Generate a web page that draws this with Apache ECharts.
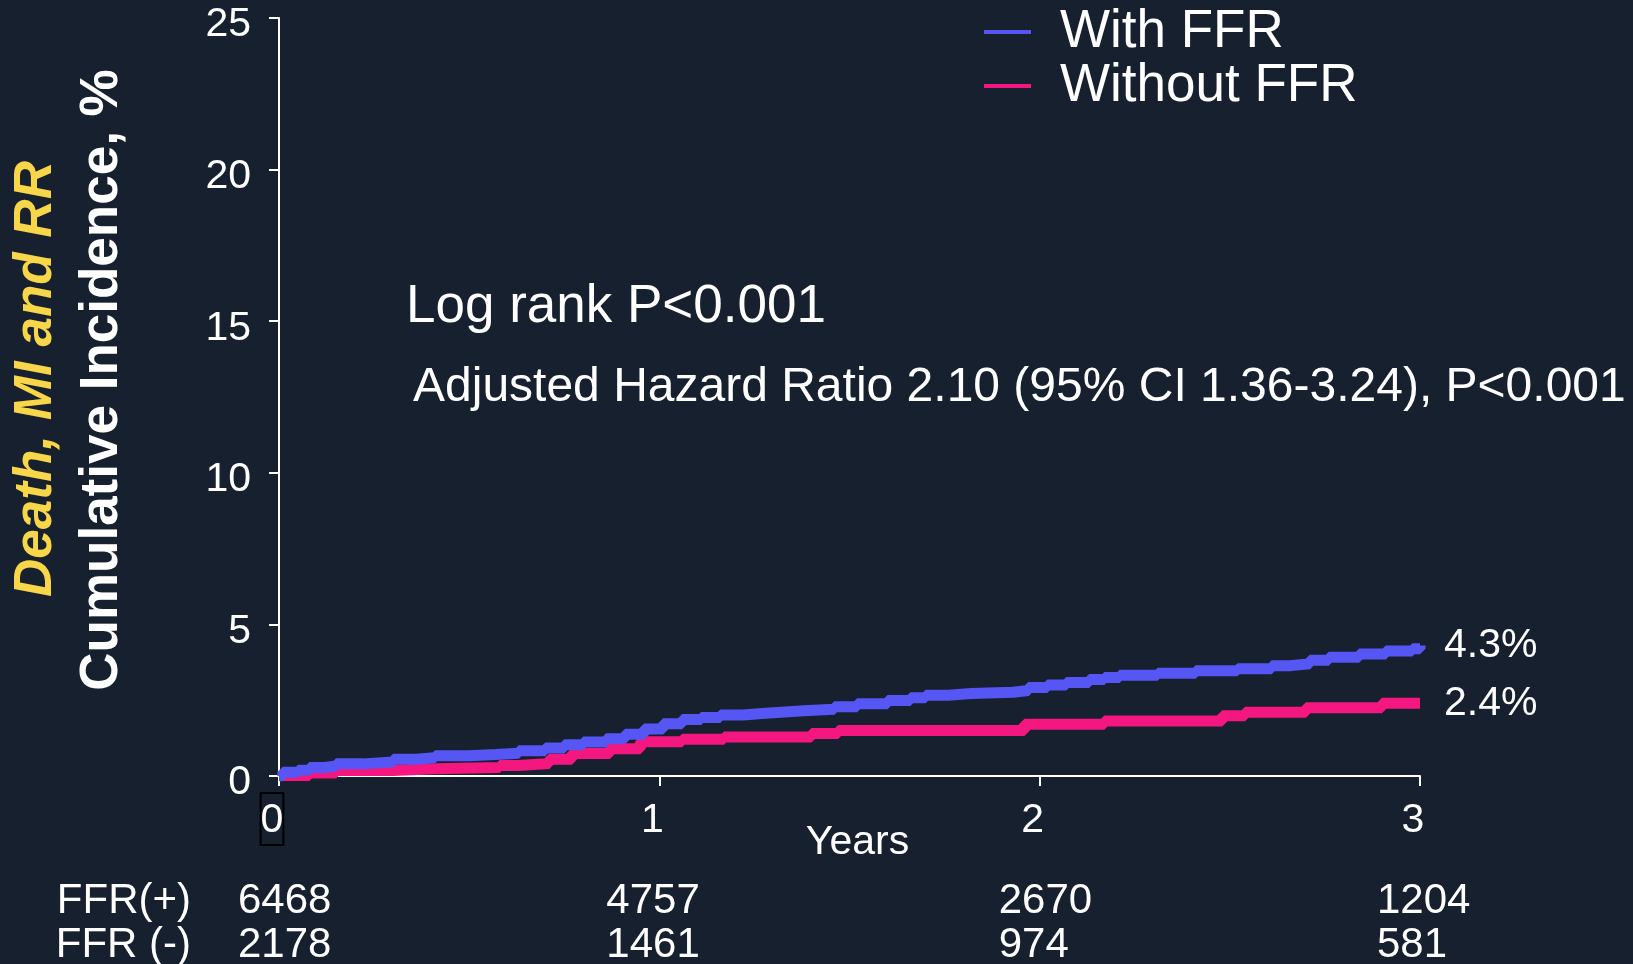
<!DOCTYPE html>
<html>
<head>
<meta charset="utf-8">
<script src="https://cdn.jsdelivr.net/npm/echarts@6/dist/echarts.min.js"></script>
<style>
  html, body { margin: 0; padding: 0; background: #16202F; }
  #chart { width: 1633px; height: 964px; }
</style>
</head>
<body>
<div id="chart"></div>
<script>
// Cumulative incidence of death, MI and repeat revascularisation (%), by years of follow-up
const seriesNames = ['With FFR', 'Without FFR'];

// Step points [year, cumulative incidence %]; each value holds until the next point
const withFFR = [
  [0, 0], [0.01, 0.12], [0.05, 0.19], [0.08, 0.28], [0.12, 0.33], [0.15, 0.40],
  [0.22, 0.46], [0.30, 0.55], [0.36, 0.60], [0.41, 0.67], [0.50, 0.71], [0.57, 0.75],
  [0.63, 0.83], [0.70, 0.92], [0.75, 1.03], [0.80, 1.12], [0.86, 1.23], [0.91, 1.38],
  [0.96, 1.55], [1.01, 1.72], [1.06, 1.86], [1.11, 1.93], [1.16, 2.01], [1.22, 2.06],
  [1.27, 2.11], [1.33, 2.15], [1.38, 2.20], [1.46, 2.28], [1.52, 2.38], [1.60, 2.49],
  [1.66, 2.58], [1.70, 2.66], [1.76, 2.72], [1.82, 2.76], [1.93, 2.82], [1.97, 2.92],
  [2.02, 3.00], [2.07, 3.08], [2.13, 3.18], [2.17, 3.25], [2.21, 3.32], [2.31, 3.39],
  [2.41, 3.47], [2.52, 3.54], [2.61, 3.64], [2.66, 3.70], [2.71, 3.82], [2.76, 3.92],
  [2.84, 4.02], [2.91, 4.12], [2.98, 4.20], [3.00, 4.3]
];
const withoutFFR = [
  [0, 0.02], [0.08, 0.10], [0.15, 0.18], [0.30, 0.24], [0.41, 0.28], [0.58, 0.35],
  [0.63, 0.41], [0.71, 0.55], [0.77, 0.74], [0.87, 0.90], [0.95, 1.13], [1.06, 1.21],
  [1.17, 1.29], [1.40, 1.40], [1.47, 1.50], [1.96, 1.71], [2.17, 1.81], [2.48, 1.99],
  [2.54, 2.10], [2.70, 2.25], [2.90, 2.40], [3.00, 2.4]
];

// Number at risk table
const riskYears = [0, 1, 2, 3];
const riskRowLabels = ['FFR(+)', 'FFR (-)'];
const riskWithFFR = [6468, 4757, 2670, 1204];
const riskWithoutFFR = [2178, 1461, 974, 581];

// Axis ticks
const yTicks = { min: 0, max: 25, interval: 5 };
const xTicks = { min: 0, max: 3, interval: 1 };

const FONT = '"Liberation Sans", Arial, Helvetica, sans-serif';
const WHITE = '#ffffff';
const BLUE = '#5656F5';
const PINK = '#F3177F';
const BG = '#16202F';

// horizontal nudge of each at-risk column relative to its year tick
const riskColumnShift = [-41, -53, -41, -43];

const chart = echarts.init(document.getElementById('chart'), null, { renderer: 'canvas' });

const endLabel = () => ({
  show: true,
  formatter: (p) => p.value[1].toFixed(1) + '%',
  color: WHITE,
  fontFamily: FONT,
  fontSize: 41,
  distance: 24
});

chart.setOption({
  backgroundColor: BG,
  animation: false,
  textStyle: { fontFamily: FONT },
  grid: { left: 279, right: 213, top: 18, bottom: 188 },
  legend: {
    orient: 'vertical',
    left: 979,
    top: 0,
    itemWidth: 47,
    itemHeight: 4,
    itemGap: 0,
    icon: 'rect',
    textStyle: { color: WHITE, fontSize: 53, fontFamily: FONT, lineHeight: 54, padding: [0, 0, 0, 24] },
    data: seriesNames
  },
  xAxis: {
    type: 'value',
    min: xTicks.min, max: xTicks.max, interval: xTicks.interval,
    name: 'Years',
    nameLocation: 'middle',
    nameMoveOverlap: false,
    nameGap: 46,
    nameTextStyle: { color: WHITE, fontSize: 41, fontFamily: FONT, padding: [0, 0, 0, 16] },
    axisLine: { lineStyle: { color: WHITE, width: 2 } },
    axisTick: { show: true, length: 10, lineStyle: { color: WHITE, width: 2 } },
    splitLine: { show: false },
    axisLabel: {
      margin: 19,
      color: WHITE,
      fontSize: 41,
      fontFamily: FONT,
      formatter: (v) => v === 0 ? '{box|0}{sp|}' : '{n|' + v + '}',
      rich: {
        box: { fontSize: 41, height: 48, lineHeight: 48, borderColor: '#000000', borderWidth: 2, padding: [4, 0, 0, 0], color: WHITE, fontFamily: FONT },
        sp: { width: 14, height: 48, lineHeight: 48 },
        n: { fontSize: 41, height: 48, lineHeight: 48, padding: [4, 14, 0, 0], color: WHITE, fontFamily: FONT }
      }
    }
  },
  yAxis: {
    type: 'value',
    min: yTicks.min, max: yTicks.max, interval: yTicks.interval,
    axisLine: { show: true, lineStyle: { color: WHITE, width: 2 } },
    axisTick: { show: true, length: 10, lineStyle: { color: WHITE, width: 2 } },
    splitLine: { show: false },
    axisLabel: { margin: 28, color: WHITE, fontSize: 41, fontFamily: FONT, verticalAlign: 'top', lineHeight: 14 }
  },
  series: [
    {
      name: seriesNames[0],
      type: 'line',
      step: 'end',
      data: withFFR,
      showSymbol: false,
      symbol: 'none',
      color: BLUE,
      lineStyle: { color: BLUE, width: 11 },
      endLabel: endLabel(),
      z: 3
    },
    {
      name: seriesNames[1],
      type: 'line',
      step: 'end',
      data: withoutFFR,
      showSymbol: false,
      symbol: 'none',
      color: PINK,
      lineStyle: { color: PINK, width: 11 },
      endLabel: endLabel(),
      z: 2
    }
  ]
});

// Annotations, rotated axis titles and the number-at-risk table
function textEl(text, x, y, opts) {
  return Object.assign({
    type: 'text',
    x: x, y: y,
    silent: true,
    style: Object.assign({
      text: text,
      fill: WHITE,
      font: '42px ' + FONT,
      textAlign: 'left', align: 'left',
      textVerticalAlign: 'middle', verticalAlign: 'middle'
    }, opts.style || {})
  }, opts.el || {});
}

const graphics = [];
graphics.push(textEl('Log rank P<0.001', 406, 307, { style: { font: '53px ' + FONT } }));
graphics.push(textEl('Adjusted Hazard Ratio 2.10 (95% CI 1.36-3.24), P<0.001', 413, 388, { style: { font: '48px ' + FONT } }));
graphics.push(textEl('Cumulative Incidence, %', 102, 380, {
  style: { font: 'bold 53px ' + FONT, textAlign: 'center', align: 'center' },
  el: { rotation: Math.PI / 2 }
}));
graphics.push(textEl('Death, MI and RR', 36, 379, {
  style: { font: 'italic bold 53px ' + FONT, textAlign: 'center', align: 'center', fill: '#F7D64A' },
  el: { rotation: Math.PI / 2 }
}));

const rowY = [901, 945];
riskRowLabels.forEach((lab, i) => {
  graphics.push(textEl(lab, 191, rowY[i], { style: { textAlign: 'right', align: 'right' } }));
});
[riskWithFFR, riskWithoutFFR].forEach((row, i) => {
  row.forEach((n, j) => {
    const px = chart.convertToPixel({ xAxisIndex: 0 }, riskYears[j]);
    graphics.push(textEl(String(n), px + riskColumnShift[j], rowY[i], {}));
  });
});

chart.setOption({ graphic: graphics });
</script>
</body>
</html>
